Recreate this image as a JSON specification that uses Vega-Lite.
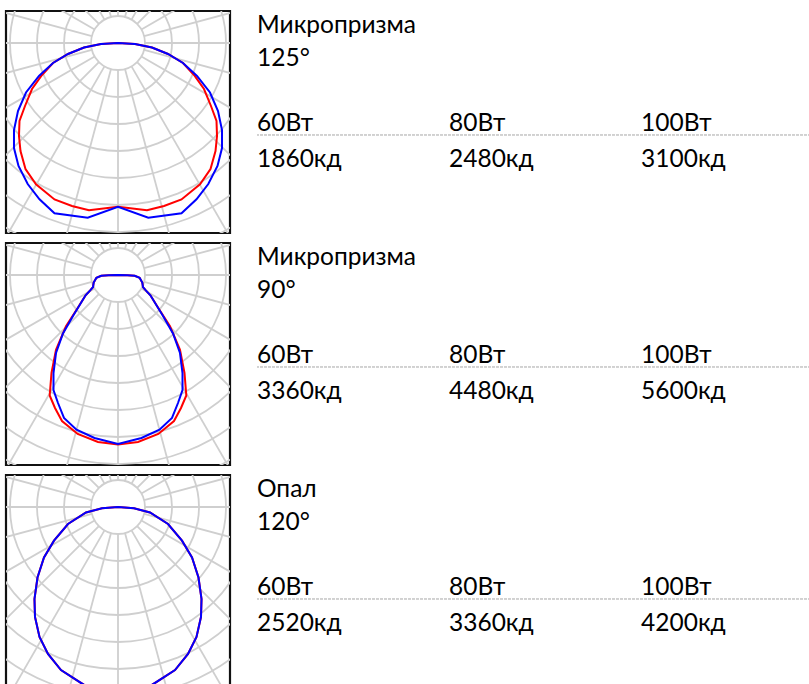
{
  "$schema": "https://vega.github.io/schema/vega-lite/v6.json",
  "background": "white",
  "padding": {"left": 4, "top": 9, "right": 0, "bottom": 0},
  "config": {
    "view": {"stroke": "#111", "strokeWidth": 2.2},
    "text": {"font": "Lato", "fontSize": 24.5, "color": "#000", "align": "left", "baseline": "alphabetic"}
  },
  "spacing": 6,
  "resolve": {"scale": {"x": "independent", "y": "independent", "size": "independent"}},
  "datasets": {
    "rings": [{"r": 1}, {"r": 2}, {"r": 3}, {"r": 4}, {"r": 5}, {"r": 6}, {"r": 7}, {"r": 8}],
    "spokes": [
      {"x0": 0, "y0": -1, "x1": 0, "y1": -9},
      {"x0": 0.2588, "y0": -0.9659, "x1": 2.3294, "y1": -8.6933},
      {"x0": 0.5, "y0": -0.866, "x1": 4.5, "y1": -7.7942},
      {"x0": 0.7071, "y0": -0.7071, "x1": 6.364, "y1": -6.364},
      {"x0": 0.866, "y0": -0.5, "x1": 7.7942, "y1": -4.5},
      {"x0": 0.9659, "y0": -0.2588, "x1": 8.6933, "y1": -2.3294},
      {"x0": 1, "y0": 0, "x1": 9, "y1": 0},
      {"x0": 0.9659, "y0": 0.2588, "x1": 8.6933, "y1": 2.3294},
      {"x0": 0.866, "y0": 0.5, "x1": 7.7942, "y1": 4.5},
      {"x0": 0.7071, "y0": 0.7071, "x1": 6.364, "y1": 6.364},
      {"x0": 0.5, "y0": 0.866, "x1": 4.5, "y1": 7.7942},
      {"x0": 0.2588, "y0": 0.9659, "x1": 2.3294, "y1": 8.6933},
      {"x0": 0, "y0": 1, "x1": 0, "y1": 9},
      {"x0": -0.2588, "y0": -0.9659, "x1": -2.3294, "y1": -8.6933},
      {"x0": -0.5, "y0": -0.866, "x1": -4.5, "y1": -7.7942},
      {"x0": -0.7071, "y0": -0.7071, "x1": -6.364, "y1": -6.364},
      {"x0": -0.866, "y0": -0.5, "x1": -7.7942, "y1": -4.5},
      {"x0": -0.9659, "y0": -0.2588, "x1": -8.6933, "y1": -2.3294},
      {"x0": -1, "y0": 0, "x1": -9, "y1": 0},
      {"x0": -0.9659, "y0": 0.2588, "x1": -8.6933, "y1": 2.3294},
      {"x0": -0.866, "y0": 0.5, "x1": -7.7942, "y1": 4.5},
      {"x0": -0.7071, "y0": 0.7071, "x1": -6.364, "y1": 6.364},
      {"x0": -0.5, "y0": 0.866, "x1": -4.5, "y1": 7.7942},
      {"x0": -0.2588, "y0": 0.9659, "x1": -2.3294, "y1": 8.6933}
    ],
    "p1": [
      {"s": "red", "i": 0, "x": 0, "y": 0},
      {"s": "red", "i": 1, "x": -0.63, "y": -0.037},
      {"s": "red", "i": 2, "x": -1.259, "y": -0.167},
      {"s": "red", "i": 3, "x": -1.852, "y": -0.407},
      {"s": "red", "i": 4, "x": -2.407, "y": -0.741},
      {"s": "red", "i": 5, "x": -2.815, "y": -1.185},
      {"s": "red", "i": 6, "x": -3.185, "y": -1.704},
      {"s": "red", "i": 7, "x": -3.444, "y": -2.333},
      {"s": "red", "i": 8, "x": -3.648, "y": -2.889},
      {"s": "red", "i": 9, "x": -3.667, "y": -3.444},
      {"s": "red", "i": 10, "x": -3.611, "y": -4.0},
      {"s": "red", "i": 11, "x": -3.426, "y": -4.667},
      {"s": "red", "i": 12, "x": -3.037, "y": -5.233},
      {"s": "red", "i": 13, "x": -2.352, "y": -5.796},
      {"s": "red", "i": 14, "x": -1.704, "y": -6.037},
      {"s": "red", "i": 15, "x": -1.074, "y": -6.193},
      {"s": "red", "i": 16, "x": 0, "y": -6.063},
      {"s": "red", "i": 17, "x": 1.074, "y": -6.193},
      {"s": "red", "i": 18, "x": 1.704, "y": -6.037},
      {"s": "red", "i": 19, "x": 2.352, "y": -5.796},
      {"s": "red", "i": 20, "x": 3.037, "y": -5.233},
      {"s": "red", "i": 21, "x": 3.426, "y": -4.667},
      {"s": "red", "i": 22, "x": 3.611, "y": -4.0},
      {"s": "red", "i": 23, "x": 3.667, "y": -3.444},
      {"s": "red", "i": 24, "x": 3.648, "y": -2.889},
      {"s": "red", "i": 25, "x": 3.444, "y": -2.333},
      {"s": "red", "i": 26, "x": 3.185, "y": -1.704},
      {"s": "red", "i": 27, "x": 2.815, "y": -1.185},
      {"s": "red", "i": 28, "x": 2.407, "y": -0.741},
      {"s": "red", "i": 29, "x": 1.852, "y": -0.407},
      {"s": "red", "i": 30, "x": 1.259, "y": -0.167},
      {"s": "red", "i": 31, "x": 0.63, "y": -0.037},
      {"s": "red", "i": 32, "x": 0, "y": 0},
      {"s": "blue", "i": 0, "x": 0, "y": 0},
      {"s": "blue", "i": 1, "x": -0.63, "y": -0.037},
      {"s": "blue", "i": 2, "x": -1.259, "y": -0.167},
      {"s": "blue", "i": 3, "x": -1.852, "y": -0.407},
      {"s": "blue", "i": 4, "x": -2.407, "y": -0.741},
      {"s": "blue", "i": 5, "x": -2.926, "y": -1.222},
      {"s": "blue", "i": 6, "x": -3.407, "y": -1.833},
      {"s": "blue", "i": 7, "x": -3.704, "y": -2.519},
      {"s": "blue", "i": 8, "x": -3.852, "y": -3.222},
      {"s": "blue", "i": 9, "x": -3.852, "y": -3.889},
      {"s": "blue", "i": 10, "x": -3.685, "y": -4.556},
      {"s": "blue", "i": 11, "x": -3.344, "y": -5.222},
      {"s": "blue", "i": 12, "x": -2.907, "y": -5.789},
      {"s": "blue", "i": 13, "x": -2.352, "y": -6.307},
      {"s": "blue", "i": 14, "x": -1.122, "y": -6.47},
      {"s": "blue", "i": 15, "x": 0, "y": -6.063},
      {"s": "blue", "i": 16, "x": 1.122, "y": -6.47},
      {"s": "blue", "i": 17, "x": 2.352, "y": -6.307},
      {"s": "blue", "i": 18, "x": 2.907, "y": -5.789},
      {"s": "blue", "i": 19, "x": 3.344, "y": -5.222},
      {"s": "blue", "i": 20, "x": 3.685, "y": -4.556},
      {"s": "blue", "i": 21, "x": 3.852, "y": -3.889},
      {"s": "blue", "i": 22, "x": 3.852, "y": -3.222},
      {"s": "blue", "i": 23, "x": 3.704, "y": -2.519},
      {"s": "blue", "i": 24, "x": 3.407, "y": -1.833},
      {"s": "blue", "i": 25, "x": 2.926, "y": -1.222},
      {"s": "blue", "i": 26, "x": 2.407, "y": -0.741},
      {"s": "blue", "i": 27, "x": 1.852, "y": -0.407},
      {"s": "blue", "i": 28, "x": 1.259, "y": -0.167},
      {"s": "blue", "i": 29, "x": 0.63, "y": -0.037},
      {"s": "blue", "i": 30, "x": 0, "y": 0}
    ],
    "p2": [
      {"s": "red", "i": 0, "x": 0, "y": 0},
      {"s": "red", "i": 1, "x": -0.35, "y": -0.006},
      {"s": "red", "i": 2, "x": -0.62, "y": -0.03},
      {"s": "red", "i": 3, "x": -0.8, "y": -0.1},
      {"s": "red", "i": 4, "x": -0.9, "y": -0.28},
      {"s": "red", "i": 5, "x": -0.926, "y": -0.45},
      {"s": "red", "i": 6, "x": -1.03, "y": -0.57},
      {"s": "red", "i": 7, "x": -1.2, "y": -0.75},
      {"s": "red", "i": 8, "x": -1.493, "y": -1.222},
      {"s": "red", "i": 9, "x": -1.926, "y": -1.9},
      {"s": "red", "i": 10, "x": -2.296, "y": -2.767},
      {"s": "red", "i": 11, "x": -2.463, "y": -3.63},
      {"s": "red", "i": 12, "x": -2.53, "y": -4.463},
      {"s": "red", "i": 13, "x": -2.333, "y": -4.926},
      {"s": "red", "i": 14, "x": -2.074, "y": -5.407},
      {"s": "red", "i": 15, "x": -1.493, "y": -5.889},
      {"s": "red", "i": 16, "x": -0.741, "y": -6.185},
      {"s": "red", "i": 17, "x": 0, "y": -6.278},
      {"s": "red", "i": 18, "x": 0.741, "y": -6.185},
      {"s": "red", "i": 19, "x": 1.493, "y": -5.889},
      {"s": "red", "i": 20, "x": 2.074, "y": -5.407},
      {"s": "red", "i": 21, "x": 2.333, "y": -4.926},
      {"s": "red", "i": 22, "x": 2.53, "y": -4.463},
      {"s": "red", "i": 23, "x": 2.463, "y": -3.63},
      {"s": "red", "i": 24, "x": 2.296, "y": -2.767},
      {"s": "red", "i": 25, "x": 1.926, "y": -1.9},
      {"s": "red", "i": 26, "x": 1.493, "y": -1.222},
      {"s": "red", "i": 27, "x": 1.2, "y": -0.75},
      {"s": "red", "i": 28, "x": 1.03, "y": -0.57},
      {"s": "red", "i": 29, "x": 0.926, "y": -0.45},
      {"s": "red", "i": 30, "x": 0.9, "y": -0.28},
      {"s": "red", "i": 31, "x": 0.8, "y": -0.1},
      {"s": "red", "i": 32, "x": 0.62, "y": -0.03},
      {"s": "red", "i": 33, "x": 0.35, "y": -0.006},
      {"s": "red", "i": 34, "x": 0, "y": 0},
      {"s": "blue", "i": 0, "x": 0, "y": 0},
      {"s": "blue", "i": 1, "x": -0.35, "y": -0.006},
      {"s": "blue", "i": 2, "x": -0.62, "y": -0.03},
      {"s": "blue", "i": 3, "x": -0.8, "y": -0.1},
      {"s": "blue", "i": 4, "x": -0.9, "y": -0.28},
      {"s": "blue", "i": 5, "x": -0.926, "y": -0.45},
      {"s": "blue", "i": 6, "x": -1.03, "y": -0.57},
      {"s": "blue", "i": 7, "x": -1.2, "y": -0.75},
      {"s": "blue", "i": 8, "x": -1.667, "y": -1.519},
      {"s": "blue", "i": 9, "x": -2.037, "y": -2.167},
      {"s": "blue", "i": 10, "x": -2.296, "y": -2.889},
      {"s": "blue", "i": 11, "x": -2.389, "y": -3.63},
      {"s": "blue", "i": 12, "x": -2.389, "y": -4.259},
      {"s": "blue", "i": 13, "x": -2.222, "y": -4.741},
      {"s": "blue", "i": 14, "x": -2.0, "y": -5.296},
      {"s": "blue", "i": 15, "x": -1.537, "y": -5.73},
      {"s": "blue", "i": 16, "x": -0.87, "y": -6.037},
      {"s": "blue", "i": 17, "x": 0, "y": -6.259},
      {"s": "blue", "i": 18, "x": 0.87, "y": -6.037},
      {"s": "blue", "i": 19, "x": 1.537, "y": -5.73},
      {"s": "blue", "i": 20, "x": 2.0, "y": -5.296},
      {"s": "blue", "i": 21, "x": 2.222, "y": -4.741},
      {"s": "blue", "i": 22, "x": 2.389, "y": -4.259},
      {"s": "blue", "i": 23, "x": 2.389, "y": -3.63},
      {"s": "blue", "i": 24, "x": 2.296, "y": -2.889},
      {"s": "blue", "i": 25, "x": 2.037, "y": -2.167},
      {"s": "blue", "i": 26, "x": 1.667, "y": -1.519},
      {"s": "blue", "i": 27, "x": 1.2, "y": -0.75},
      {"s": "blue", "i": 28, "x": 1.03, "y": -0.57},
      {"s": "blue", "i": 29, "x": 0.926, "y": -0.45},
      {"s": "blue", "i": 30, "x": 0.9, "y": -0.28},
      {"s": "blue", "i": 31, "x": 0.8, "y": -0.1},
      {"s": "blue", "i": 32, "x": 0.62, "y": -0.03},
      {"s": "blue", "i": 33, "x": 0.35, "y": -0.006},
      {"s": "blue", "i": 34, "x": 0, "y": 0}
    ],
    "p3": [
      {"i": 0, "x": 0, "y": 0},
      {"i": 1, "x": -0.593, "y": -0.048},
      {"i": 2, "x": -1.185, "y": -0.204},
      {"i": 3, "x": -1.852, "y": -0.63},
      {"i": 4, "x": -2.37, "y": -1.248},
      {"i": 5, "x": -2.741, "y": -1.87},
      {"i": 6, "x": -2.981, "y": -2.611},
      {"i": 7, "x": -3.093, "y": -3.407},
      {"i": 8, "x": -3.074, "y": -4.074},
      {"i": 9, "x": -2.907, "y": -4.815},
      {"i": 10, "x": -2.593, "y": -5.444},
      {"i": 11, "x": -2.111, "y": -6.04},
      {"i": 12, "x": -1.241, "y": -6.6},
      {"i": 13, "x": 0, "y": -6.83},
      {"i": 14, "x": 1.241, "y": -6.6},
      {"i": 15, "x": 2.111, "y": -6.04},
      {"i": 16, "x": 2.593, "y": -5.444},
      {"i": 17, "x": 2.907, "y": -4.815},
      {"i": 18, "x": 3.074, "y": -4.074},
      {"i": 19, "x": 3.093, "y": -3.407},
      {"i": 20, "x": 2.981, "y": -2.611},
      {"i": 21, "x": 2.741, "y": -1.87},
      {"i": 22, "x": 2.37, "y": -1.248},
      {"i": 23, "x": 1.852, "y": -0.63},
      {"i": 24, "x": 1.185, "y": -0.204},
      {"i": 25, "x": 0.593, "y": -0.048},
      {"i": 26, "x": 0, "y": 0}
    ],
    "t1": [
      {"line": 0.95, "col": 0, "t": "Микропризма"},
      {"line": 1.94, "col": 0, "t": "125°"},
      {"line": 3.9, "col": 0, "t": "60Вт"},
      {"line": 3.9, "col": 1, "t": "80Вт"},
      {"line": 3.9, "col": 2, "t": "100Вт"},
      {"line": 5, "col": 0, "t": "1860кд"},
      {"line": 5, "col": 1, "t": "2480кд"},
      {"line": 5, "col": 2, "t": "3100кд"}
    ],
    "t2": [
      {"line": 0.95, "col": 0, "t": "Микропризма"},
      {"line": 1.94, "col": 0, "t": "90°"},
      {"line": 3.9, "col": 0, "t": "60Вт"},
      {"line": 3.9, "col": 1, "t": "80Вт"},
      {"line": 3.9, "col": 2, "t": "100Вт"},
      {"line": 5, "col": 0, "t": "3360кд"},
      {"line": 5, "col": 1, "t": "4480кд"},
      {"line": 5, "col": 2, "t": "5600кд"}
    ],
    "t3": [
      {"line": 0.95, "col": 0, "t": "Опал"},
      {"line": 1.94, "col": 0, "t": "120°"},
      {"line": 3.9, "col": 0, "t": "60Вт"},
      {"line": 3.9, "col": 1, "t": "80Вт"},
      {"line": 3.9, "col": 2, "t": "100Вт"},
      {"line": 5, "col": 0, "t": "2520кд"},
      {"line": 5, "col": 1, "t": "3360кд"},
      {"line": 5, "col": 2, "t": "4200кд"}
    ],
    "sep": [{"line": 4.03}]
  },
  "vconcat": [
    {
      "spacing": 24,
      "resolve": {"scale": {"x": "independent", "y": "independent", "size": "independent"}},
      "hconcat": [
        {
          "width": 224,
          "height": 222,
          "layer": [
            {
              "data": {"name": "rings"},
              "mark": {"type": "point", "shape": "circle", "filled": false, "stroke": "#cfcfcf", "strokeWidth": 1.8, "opacity": 1, "clip": true},
              "encoding": {
                "x": {"datum": 0, "type": "quantitative", "scale": {"domain": [-4.148, 4.148], "nice": false, "zero": false}, "axis": null},
                "y": {"datum": 0, "type": "quantitative", "scale": {"domain": [-7.037, 1.185], "nice": false, "zero": false}, "axis": null},
                "size": {"field": "r", "type": "quantitative", "scale": {"type": "pow", "exponent": 2, "domain": [0, 8], "range": [0, 186624]}, "legend": null}
              }
            },
            {
              "data": {"name": "spokes"},
              "mark": {"type": "rule", "stroke": "#cfcfcf", "strokeWidth": 1.8, "clip": true},
              "encoding": {
                "x": {"field": "x0", "type": "quantitative", "scale": {"domain": [-4.148, 4.148], "nice": false, "zero": false}, "axis": null},
                "y": {"field": "y0", "type": "quantitative", "scale": {"domain": [-7.037, 1.185], "nice": false, "zero": false}, "axis": null},
                "x2": {"field": "x1"},
                "y2": {"field": "y1"}
              }
            },
            {
              "data": {"name": "p1"},
              "transform": [{"filter": "datum.s == 'red'"}],
              "mark": {"type": "line", "stroke": "#ff0000", "strokeWidth": 2, "clip": true},
              "encoding": {
                "x": {"field": "x", "type": "quantitative", "scale": {"domain": [-4.148, 4.148], "nice": false, "zero": false}, "axis": null},
                "y": {"field": "y", "type": "quantitative", "scale": {"domain": [-7.037, 1.185], "nice": false, "zero": false}, "axis": null},
                "order": {"field": "i", "type": "quantitative"}
              }
            },
            {
              "data": {"name": "p1"},
              "transform": [{"filter": "datum.s == 'blue'"}],
              "mark": {"type": "line", "stroke": "#0000ff", "strokeWidth": 2, "clip": true},
              "encoding": {
                "x": {"field": "x", "type": "quantitative", "scale": {"domain": [-4.148, 4.148], "nice": false, "zero": false}, "axis": null},
                "y": {"field": "y", "type": "quantitative", "scale": {"domain": [-7.037, 1.185], "nice": false, "zero": false}, "axis": null},
                "order": {"field": "i", "type": "quantitative"}
              }
            }
          ]
        },
        {
          "width": 554,
          "height": 222,
          "view": {"stroke": null},
          "layer": [
            {
              "data": {"name": "sep"},
              "mark": {"type": "rule", "stroke": "#a6a6a6", "strokeWidth": 1, "strokeDash": [3, 1]},
              "encoding": {
                "y": {"field": "line", "type": "quantitative", "scale": {"domain": [0.2727, 7.0], "reverse": true, "nice": false, "zero": false}, "axis": null}
              }
            },
            {
              "data": {"name": "t1"},
              "mark": {"type": "text"},
              "encoding": {
                "x": {"field": "col", "type": "quantitative", "scale": {"domain": [0, 2.885], "nice": false, "zero": false}, "axis": null},
                "y": {"field": "line", "type": "quantitative", "scale": {"domain": [0.2727, 7.0], "reverse": true, "nice": false, "zero": false}, "axis": null},
                "text": {"field": "t"}
              }
            }
          ]
        }
      ]
    },
    {
      "spacing": 24,
      "resolve": {"scale": {"x": "independent", "y": "independent", "size": "independent"}},
      "hconcat": [
        {
          "width": 224,
          "height": 222,
          "layer": [
            {
              "data": {"name": "rings"},
              "mark": {"type": "point", "shape": "circle", "filled": false, "stroke": "#cfcfcf", "strokeWidth": 1.8, "opacity": 1, "clip": true},
              "encoding": {
                "x": {"datum": 0, "type": "quantitative", "scale": {"domain": [-4.148, 4.148], "nice": false, "zero": false}, "axis": null},
                "y": {"datum": 0, "type": "quantitative", "scale": {"domain": [-7.037, 1.185], "nice": false, "zero": false}, "axis": null},
                "size": {"field": "r", "type": "quantitative", "scale": {"type": "pow", "exponent": 2, "domain": [0, 8], "range": [0, 186624]}, "legend": null}
              }
            },
            {
              "data": {"name": "spokes"},
              "mark": {"type": "rule", "stroke": "#cfcfcf", "strokeWidth": 1.8, "clip": true},
              "encoding": {
                "x": {"field": "x0", "type": "quantitative", "scale": {"domain": [-4.148, 4.148], "nice": false, "zero": false}, "axis": null},
                "y": {"field": "y0", "type": "quantitative", "scale": {"domain": [-7.037, 1.185], "nice": false, "zero": false}, "axis": null},
                "x2": {"field": "x1"},
                "y2": {"field": "y1"}
              }
            },
            {
              "data": {"name": "p2"},
              "transform": [{"filter": "datum.s == 'red'"}],
              "mark": {"type": "line", "stroke": "#ff0000", "strokeWidth": 2, "clip": true},
              "encoding": {
                "x": {"field": "x", "type": "quantitative", "scale": {"domain": [-4.148, 4.148], "nice": false, "zero": false}, "axis": null},
                "y": {"field": "y", "type": "quantitative", "scale": {"domain": [-7.037, 1.185], "nice": false, "zero": false}, "axis": null},
                "order": {"field": "i", "type": "quantitative"}
              }
            },
            {
              "data": {"name": "p2"},
              "transform": [{"filter": "datum.s == 'blue'"}],
              "mark": {"type": "line", "stroke": "#0000ff", "strokeWidth": 2, "clip": true},
              "encoding": {
                "x": {"field": "x", "type": "quantitative", "scale": {"domain": [-4.148, 4.148], "nice": false, "zero": false}, "axis": null},
                "y": {"field": "y", "type": "quantitative", "scale": {"domain": [-7.037, 1.185], "nice": false, "zero": false}, "axis": null},
                "order": {"field": "i", "type": "quantitative"}
              }
            }
          ]
        },
        {
          "width": 554,
          "height": 222,
          "view": {"stroke": null},
          "layer": [
            {
              "data": {"name": "sep"},
              "mark": {"type": "rule", "stroke": "#a6a6a6", "strokeWidth": 1, "strokeDash": [3, 1]},
              "encoding": {
                "y": {"field": "line", "type": "quantitative", "scale": {"domain": [0.2727, 7.0], "reverse": true, "nice": false, "zero": false}, "axis": null}
              }
            },
            {
              "data": {"name": "t2"},
              "mark": {"type": "text"},
              "encoding": {
                "x": {"field": "col", "type": "quantitative", "scale": {"domain": [0, 2.885], "nice": false, "zero": false}, "axis": null},
                "y": {"field": "line", "type": "quantitative", "scale": {"domain": [0.2727, 7.0], "reverse": true, "nice": false, "zero": false}, "axis": null},
                "text": {"field": "t"}
              }
            }
          ]
        }
      ]
    },
    {
      "spacing": 24,
      "resolve": {"scale": {"x": "independent", "y": "independent", "size": "independent"}},
      "hconcat": [
        {
          "width": 224,
          "height": 218,
          "layer": [
            {
              "data": {"name": "rings"},
              "mark": {"type": "point", "shape": "circle", "filled": false, "stroke": "#cfcfcf", "strokeWidth": 1.8, "opacity": 1, "clip": true},
              "encoding": {
                "x": {"datum": 0, "type": "quantitative", "scale": {"domain": [-4.148, 4.148], "nice": false, "zero": false}, "axis": null},
                "y": {"datum": 0, "type": "quantitative", "scale": {"domain": [-6.889, 1.185], "nice": false, "zero": false}, "axis": null},
                "size": {"field": "r", "type": "quantitative", "scale": {"type": "pow", "exponent": 2, "domain": [0, 8], "range": [0, 186624]}, "legend": null}
              }
            },
            {
              "data": {"name": "spokes"},
              "mark": {"type": "rule", "stroke": "#cfcfcf", "strokeWidth": 1.8, "clip": true},
              "encoding": {
                "x": {"field": "x0", "type": "quantitative", "scale": {"domain": [-4.148, 4.148], "nice": false, "zero": false}, "axis": null},
                "y": {"field": "y0", "type": "quantitative", "scale": {"domain": [-6.889, 1.185], "nice": false, "zero": false}, "axis": null},
                "x2": {"field": "x1"},
                "y2": {"field": "y1"}
              }
            },
            {
              "data": {"name": "p3"},
              "mark": {"type": "line", "stroke": "#ff0000", "strokeWidth": 2, "clip": true},
              "encoding": {
                "x": {"field": "x", "type": "quantitative", "scale": {"domain": [-4.148, 4.148], "nice": false, "zero": false}, "axis": null},
                "y": {"field": "y", "type": "quantitative", "scale": {"domain": [-6.889, 1.185], "nice": false, "zero": false}, "axis": null},
                "order": {"field": "i", "type": "quantitative"}
              }
            },
            {
              "data": {"name": "p3"},
              "mark": {"type": "line", "stroke": "#0000ff", "strokeWidth": 2, "clip": true},
              "encoding": {
                "x": {"field": "x", "type": "quantitative", "scale": {"domain": [-4.148, 4.148], "nice": false, "zero": false}, "axis": null},
                "y": {"field": "y", "type": "quantitative", "scale": {"domain": [-6.889, 1.185], "nice": false, "zero": false}, "axis": null},
                "order": {"field": "i", "type": "quantitative"}
              }
            }
          ]
        },
        {
          "width": 554,
          "height": 218,
          "view": {"stroke": null},
          "layer": [
            {
              "data": {"name": "sep"},
              "mark": {"type": "rule", "stroke": "#a6a6a6", "strokeWidth": 1, "strokeDash": [3, 1]},
              "encoding": {
                "y": {"field": "line", "type": "quantitative", "scale": {"domain": [0.2727, 6.879], "reverse": true, "nice": false, "zero": false}, "axis": null}
              }
            },
            {
              "data": {"name": "t3"},
              "mark": {"type": "text"},
              "encoding": {
                "x": {"field": "col", "type": "quantitative", "scale": {"domain": [0, 2.885], "nice": false, "zero": false}, "axis": null},
                "y": {"field": "line", "type": "quantitative", "scale": {"domain": [0.2727, 6.879], "reverse": true, "nice": false, "zero": false}, "axis": null},
                "text": {"field": "t"}
              }
            }
          ]
        }
      ]
    }
  ]
}
